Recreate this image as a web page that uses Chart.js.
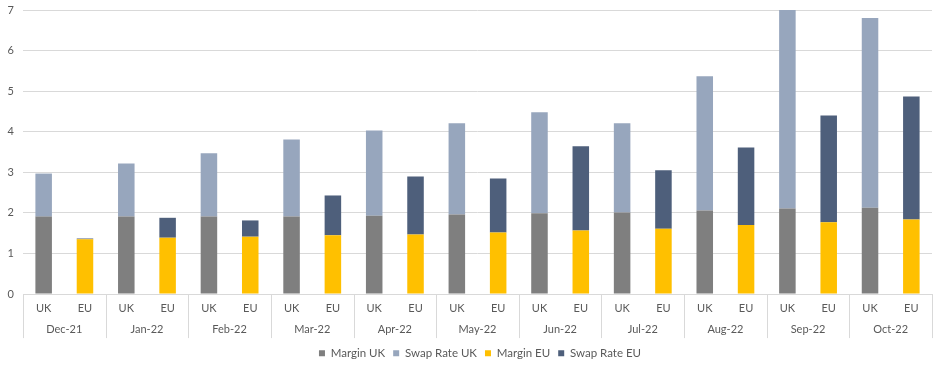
<!DOCTYPE html>
<html><head><meta charset="utf-8">
<script src="https://cdn.jsdelivr.net/npm/chart.js@4/dist/chart.umd.min.js"></script>
<style>html,body{margin:0;padding:0;background:#fff}#wrap{width:942px;height:373px;position:relative}</style>
</head><body><div id="wrap"><canvas id="c"></canvas></div>
<script>
const months = ['Dec-21','Jan-22','Feb-22','Mar-22','Apr-22','May-22','Jun-22','Jul-22','Aug-22','Sep-22','Oct-22'];
const regions = ['UK','EU'];
const marginUK = [1.91,1.91,1.91,1.91,1.93,1.96,1.99,2.01,2.06,2.11,2.13];
const swapUK   = [1.06,1.31,1.56,1.90,2.10,2.25,2.49,2.20,3.31,4.89,4.67];
const marginEU = [1.35,1.39,1.415,1.45,1.47,1.52,1.57,1.61,1.70,1.77,1.84];
const swapEU   = [0.02,0.49,0.40,0.98,1.43,1.33,2.07,1.44,1.91,2.63,3.03];
const yTicks = [0,1,2,3,4,5,6,7];

const categories = [];
months.forEach(() => regions.forEach(r => categories.push(r)));
const ukOnly = arr => arr.flatMap(v => [v, null]);
const euOnly = arr => arr.flatMap(v => [null, v]);

const GRID = '#d9d9d9';
const TXT = '#595959';
Chart.defaults.font.family = 'Lato, "Open Sans", sans-serif';
Chart.defaults.font.size = 11;
Chart.defaults.color = TXT;

const separators = {
  id: 'separators',
  afterLayout(chart) {
    // Excel centres the legend slightly right of the canvas centre
    chart.legend.left += 14; chart.legend.right += 14;
  },
  afterDraw(chart) {
    const x = chart.scales.x, ctx = chart.ctx;
    const b = chart.chartArea.bottom;
    ctx.save();
    ctx.strokeStyle = GRID; ctx.lineWidth = 1;
    for (let k = 0; k <= months.length; k++) {
      const px = Math.round(x.getPixelForValue(k * regions.length - 0.5)) + 0.5;
      ctx.beginPath(); ctx.moveTo(px, b); ctx.lineTo(px, b + 44); ctx.stroke();
    }
    ctx.restore();
  }
};

new Chart(document.getElementById('c'), {
  type: 'bar',
  data: {
    labels: categories,
    datasets: [
      {label: 'Margin UK', data: ukOnly(marginUK), backgroundColor: '#7f7f7f'},
      {label: 'Swap Rate UK', data: ukOnly(swapUK), backgroundColor: '#97a6bd'},
      {label: 'Margin EU', data: euOnly(marginEU), backgroundColor: '#ffc000'},
      {label: 'Swap Rate EU', data: euOnly(swapEU), backgroundColor: '#4e5f7b'}
    ]
  },
  options: {
    responsive: true, maintainAspectRatio: false, animation: false,
    datasets: {bar: {categoryPercentage: 1, barPercentage: 0.4, skipNull: false}},
    layout: {padding: {top: 0, right: 10, left: 0, bottom: 4}},
    plugins: {
      tooltip: {enabled: false},
      legend: {
        position: 'bottom',
        labels: {boxWidth: 6, boxHeight: 6, padding: 8, color: TXT, font: {size: 11.5}}
      }
    },
    scales: {
      x: {
        stacked: true,
        grid: {display: false, drawTicks: false},
        border: {display: true, color: GRID},
        ticks: {padding: 8, color: TXT, maxRotation: 0, autoSkip: false}
      },
      x2: {
        type: 'category', labels: months, position: 'bottom', offset: true,
        afterFit: s => { s.height += 3; },
        grid: {display: false, drawTicks: false},
        border: {display: false},
        ticks: {padding: 0, color: TXT, maxRotation: 0, autoSkip: false}
      },
      y: {
        stacked: true, min: 0, max: 7,
        afterFit: s => { s.width = 23; s.paddingTop = 10; s.paddingBottom = 0; },
        afterBuildTicks: s => { s.ticks = yTicks.map(v => ({value: v})); },
        grid: {color: GRID, drawTicks: false},
        border: {display: false},
        ticks: {padding: 9, color: TXT}
      }
    }
  },
  plugins: [separators]
});
</script></body></html>
